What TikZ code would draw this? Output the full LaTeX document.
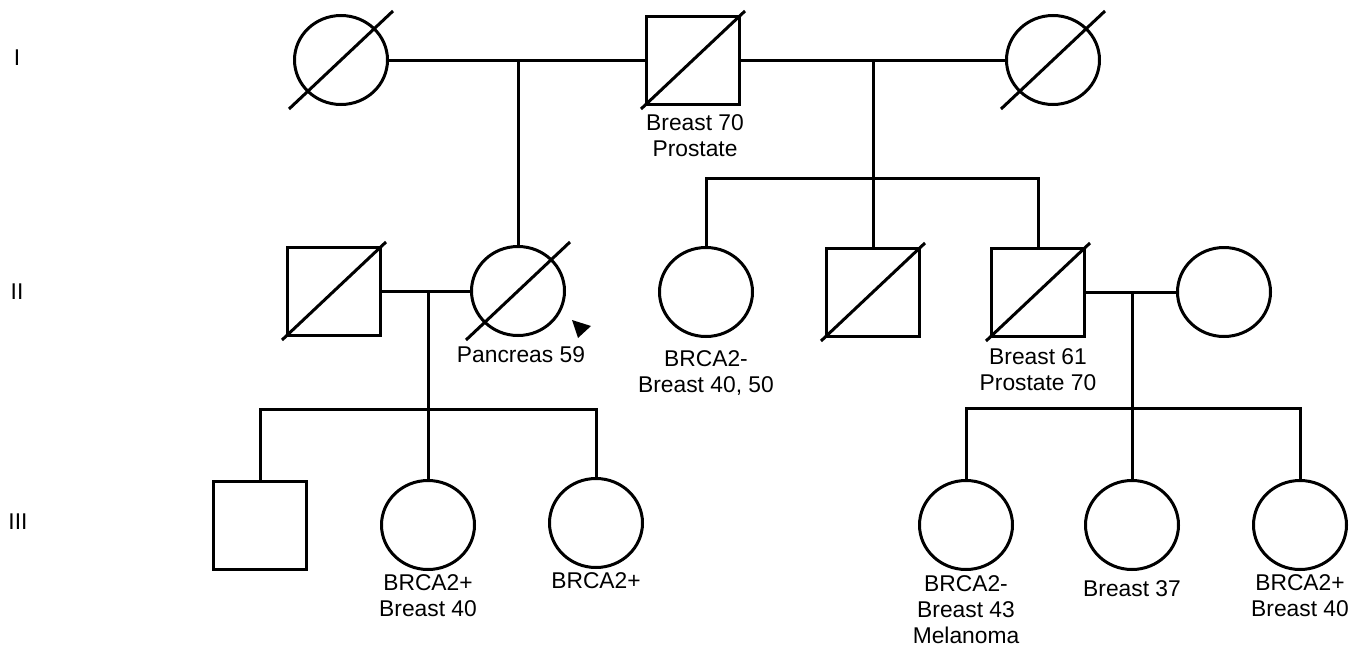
\documentclass[tikz,border=0pt]{standalone}
\usepackage{fontspec}
\setmainfont{Liberation Sans}
\usetikzlibrary{shapes.geometric}
\begin{document}
\begin{tikzpicture}[x=1pt,y=-1pt,
  line width=3pt,
  female/.style={draw, ellipse, minimum width=93pt, minimum height=89pt, inner sep=0pt},
  male/.style={draw, rectangle, minimum width=93pt, minimum height=88pt, inner sep=0pt},
  lbl/.style={anchor=north, align=center, inner sep=0pt, font=\fontsize{22.8}{26}\selectfont},
  gen/.style={font=\fontsize{22.8}{26}\selectfont, inner sep=0pt},
  slash/.style={line width=3pt, line cap=butt}
]
\useasboundingbox (0,0) rectangle (1369,656);

% generation labels
\node[gen] (gI) at (17,58) {I};
\node[gen] (gII) at (17,292) {II};
\node[gen] (gIII) at (18,522) {III};

% generation I
\node[female] (I1) at (341,60) {};
\node[male] (I2) at (693,60) {};
\node[female] (I3) at (1053,60) {};

% generation II
\node[male] (II1) at (334,291) {};
\node[female] (II2) at (518,291) {};
\node[female] (II5) at (706,292) {};
\node[male] (II6) at (873,292) {};
\node[male] (II7) at (1038,292) {};
\node[female] (II8) at (1224,292) {};

% generation III
\node[male] (III1) at (260,525) {};
\node[female] (III2) at (428,525) {};
\node[female] (III3) at (596,523) {};
\node[female] (III4) at (966,525) {};
\node[female] (III5) at (1132,525) {};
\node[female] (III6) at (1300,525) {};

% deceased slashes
\foreach \n in {I1,I2,I3,II1,II2,II6,II7}
  \draw[slash] (\n.center) ++(-52,49) -- ++(104,-98);

% proband arrow
\fill (II2.center) ++(54,29) -- ++(19,6) -- ++(-13,12) -- cycle;

% junction coordinates
\coordinate (m1) at (518,60);
\coordinate (m2) at (873,60);
\coordinate (s1) at (873,178);
\coordinate (m3) at (428,291);
\coordinate (s2) at (428,409);
\coordinate (m4) at (1132,292);
\coordinate (s3) at (1132,408);

% marriages
\draw (I1.east) -- (I2.west);
\draw (I2.east) -- (I3.west);
\draw (II1.east) -- (II2.west);
\draw (II7.east) -- (II8.west);

% descent
\draw (m1) -- (II2.north);
\draw (m2) -- (II6.north);
\draw (II5.north) |- (s1) -| (II7.north);
\draw (m3) -- (III2.north);
\draw (III1.north) |- (s2) -| (III3.north);
\draw (m4) -- (III5.north);
\draw (III4.north) |- (s3) -| (III6.north);

% labels
\node[lbl] (tI2) at (695,113) {Breast 70\\Prostate};
\node[lbl] (tII2) at (521,345) {Pancreas 59};
\node[lbl] (tII5) at (706,349) {BRCA2-\\Breast 40, 50};
\node[lbl] (tII7) at (1038,347) {Breast 61\\Prostate 70};
\node[lbl] (tIII2) at (428,573) {BRCA2+\\Breast 40};
\node[lbl] (tIII3) at (596,571) {BRCA2+};
\node[lbl] (tIII4) at (966,574) {BRCA2-\\Breast 43\\Melanoma};
\node[lbl] (tIII5) at (1132,579) {Breast 37};
\node[lbl] (tIII6) at (1300,573) {BRCA2+\\Breast 40};
\end{tikzpicture}
\end{document}
